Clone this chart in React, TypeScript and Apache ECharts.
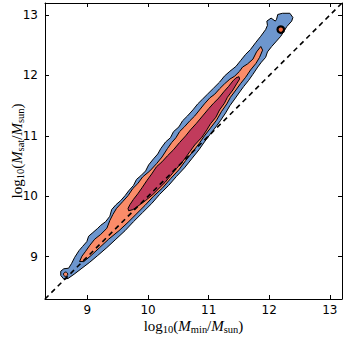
import React, { useEffect, useRef } from "react";
import * as echarts from "echarts";

// axis extent and ticks (log10 masses)
const axisMin = 8.3;
const axisMax = 13.2;
const tickValues = [9, 10, 11, 12, 13];

// 1:1 reference line
const diagonal = [
  [8.3, 8.3],
  [13.2, 13.2],
];

// outer (blue) density contour, [log10 Mmin, log10 Msat]
const outerContour = [
  [8.56, 8.69], [8.56, 8.76], [8.61, 8.8], [8.69, 8.81], [8.74, 8.89], [8.79, 8.99], [8.86, 9.1],
  [8.92, 9.17], [8.99, 9.25], [9.02, 9.34], [9.09, 9.4], [9.17, 9.47], [9.22, 9.52], [9.3, 9.58],
  [9.37, 9.67], [9.4, 9.78], [9.47, 9.86], [9.55, 9.93], [9.62, 10.01], [9.68, 10.09], [9.76, 10.18],
  [9.81, 10.28], [9.88, 10.34], [9.96, 10.42], [10.01, 10.52], [10.09, 10.62], [10.16, 10.7],
  [10.21, 10.79], [10.29, 10.9], [10.37, 10.97], [10.42, 11.07], [10.51, 11.15], [10.57, 11.25],
  [10.65, 11.33], [10.74, 11.43], [10.82, 11.53], [10.9, 11.61], [10.98, 11.69], [11.08, 11.79],
  [11.18, 11.89], [11.26, 11.99], [11.35, 12.07], [11.45, 12.15], [11.53, 12.25], [11.61, 12.35],
  [11.69, 12.43], [11.78, 12.55], [11.86, 12.65], [11.94, 12.76], [11.97, 12.83], [11.96, 12.9],
  [12.03, 12.95], [12.1, 12.9], [12.12, 12.93], [12.14, 13.01], [12.22, 13.03], [12.34, 13.03],
  [12.39, 12.96], [12.37, 12.9], [12.29, 12.81], [12.24, 12.73], [12.19, 12.65], [12.12, 12.57],
  [12.04, 12.48], [11.97, 12.39], [11.94, 12.3], [11.87, 12.22], [11.81, 12.14], [11.73, 12.02],
  [11.66, 11.92], [11.58, 11.82], [11.5, 11.71], [11.43, 11.61], [11.35, 11.5], [11.28, 11.38],
  [11.2, 11.26], [11.12, 11.15], [11.02, 11.02], [10.93, 10.9], [10.84, 10.77], [10.72, 10.62],
  [10.6, 10.47], [10.47, 10.33], [10.34, 10.18], [10.19, 10.03], [10.06, 9.88], [9.91, 9.73],
  [9.76, 9.58], [9.62, 9.43], [9.47, 9.29], [9.32, 9.15], [9.17, 9.02], [9.04, 8.91], [8.91, 8.81],
  [8.78, 8.71], [8.68, 8.64], [8.61, 8.63],
];

// middle (salmon) contour
const middleContour = [
  [8.87, 8.92], [8.91, 9.01], [8.97, 9.09], [9.04, 9.19], [9.12, 9.29], [9.22, 9.37], [9.32, 9.47],
  [9.37, 9.6], [9.42, 9.7], [9.48, 9.8], [9.58, 9.91], [9.67, 10.01], [9.75, 10.13], [9.83, 10.21],
  [9.91, 10.32], [10.03, 10.42], [10.14, 10.54], [10.23, 10.65], [10.32, 10.79], [10.39, 10.89],
  [10.46, 10.97], [10.52, 11.07], [10.6, 11.15], [10.69, 11.25], [10.77, 11.33], [10.85, 11.43],
  [10.93, 11.53], [11.02, 11.63], [11.1, 11.69], [11.18, 11.78], [11.26, 11.86], [11.35, 11.94],
  [11.43, 11.99], [11.51, 12.07], [11.56, 12.14], [11.64, 12.19], [11.73, 12.27], [11.79, 12.39],
  [11.86, 12.48], [11.89, 12.42], [11.84, 12.3], [11.78, 12.2], [11.69, 12.09], [11.61, 11.97],
  [11.53, 11.87], [11.45, 11.76], [11.36, 11.64], [11.3, 11.53], [11.21, 11.4], [11.13, 11.26],
  [11.03, 11.13], [10.93, 11.0], [10.84, 10.87], [10.74, 10.74], [10.62, 10.59], [10.51, 10.44],
  [10.37, 10.29], [10.24, 10.14], [10.09, 10.0], [9.95, 9.85], [9.8, 9.7], [9.67, 9.57], [9.52, 9.43],
  [9.35, 9.29], [9.2, 9.15], [9.06, 9.02], [8.94, 8.92],
];

// inner (crimson) contour
const innerContour = [
  [9.67, 9.8], [9.7, 9.86], [9.76, 9.95], [9.83, 10.04], [9.9, 10.14], [9.98, 10.26], [10.06, 10.37],
  [10.14, 10.49], [10.23, 10.57], [10.32, 10.67], [10.42, 10.77], [10.52, 10.89], [10.62, 11.0],
  [10.7, 11.1], [10.8, 11.21], [10.9, 11.33], [11.0, 11.45], [11.08, 11.54], [11.17, 11.63],
  [11.25, 11.73], [11.33, 11.82], [11.4, 11.91], [11.45, 11.96], [11.5, 11.98], [11.51, 11.94],
  [11.46, 11.86], [11.4, 11.76], [11.31, 11.64], [11.26, 11.54], [11.18, 11.43], [11.12, 11.31],
  [11.03, 11.2], [10.97, 11.1], [10.89, 10.98], [10.77, 10.85], [10.69, 10.74], [10.59, 10.6],
  [10.47, 10.46], [10.37, 10.34], [10.28, 10.23], [10.18, 10.13], [10.08, 10.03], [9.96, 9.93],
  [9.85, 9.85], [9.75, 9.78], [9.68, 9.76],
];

// small isolated contour islands: [x, y, radius in dex]
const islands = [
  [12.19, 12.76, 0.054],
  [8.64, 8.71, 0.035],
  [12.02, 12.9, 0.014],
];

const contours = [outerContour, middleContour, innerContour];
const contourColors = ["#6d96ce", "#fa8c69", "#c13b5c"];
const islandStyles = [
  { fill: "#f46a3e", stroke: "#000", lineWidth: 2.2 },
  { fill: "#fa8c69", stroke: "#000", lineWidth: 1 },
  { fill: "#1a1a1a", stroke: "#1a1a1a", lineWidth: 0 },
];

const serif = "'Liberation Serif', 'DejaVu Serif', serif";
const rich = {
  r: { fontFamily: serif, fontSize: 15, color: "#000" },
  i: { fontFamily: serif, fontSize: 15, fontStyle: "italic", color: "#000" },
  s: { fontFamily: serif, fontSize: 10.5, color: "#000", padding: [7, 0, 0, 0] },
};

function App() {
  const ref = useRef<HTMLDivElement>(null);
  useEffect(() => {
    if (!ref.current) return;
    const chart = echarts.init(ref.current, null, { renderer: "svg" });
    const tickCommon = {
      show: true,
      inside: true,
      length: 4,
      customValues: tickValues,
      lineStyle: { color: "#000", width: 1 },
    };
    const lineCommon = { show: true, onZero: false, lineStyle: { color: "#000", width: 1 } };
    const labelCommon = {
      customValues: tickValues,
      color: "#000",
      fontSize: 12,
      fontFamily: "'DejaVu Sans', sans-serif",
    };
    chart.setOption({
      animation: false,
      backgroundColor: "#fff",
      grid: { left: 45, right: 4, top: 3, bottom: 47, outerBoundsMode: "none" },
      xAxis: [
        {
          type: "value",
          min: axisMin,
          max: axisMax,
          position: "bottom",
          axisLine: lineCommon,
          axisTick: tickCommon,
          axisLabel: { ...labelCommon, margin: 5 },
          splitLine: { show: false },
          name: "{r|log}{s|10}{r|(}{i|M}{s|min}{r|/}{i|M}{s|sun}{r|)}",
          nameLocation: "middle",
          nameGap: 18,
          nameMoveOverlap: false,
          nameTextStyle: { rich },
        },
        {
          type: "value",
          min: axisMin,
          max: axisMax,
          position: "top",
          axisLine: lineCommon,
          axisTick: tickCommon,
          axisLabel: { show: false },
          splitLine: { show: false },
        },
      ],
      yAxis: [
        {
          type: "value",
          min: axisMin,
          max: axisMax,
          position: "left",
          axisLine: lineCommon,
          axisTick: tickCommon,
          axisLabel: { ...labelCommon, margin: 7 },
          splitLine: { show: false },
          name: "{r|log}{s|10}{r|(}{i|M}{s|sat}{r|/}{i|M}{s|sun}{r|)}",
          nameLocation: "middle",
          nameGap: 19,
          nameRotate: 90,
          nameMoveOverlap: false,
          nameTextStyle: { rich },
        },
        {
          type: "value",
          min: axisMin,
          max: axisMax,
          position: "right",
          axisLine: lineCommon,
          axisTick: tickCommon,
          axisLabel: { show: false },
          splitLine: { show: false },
        },
      ],
      series: [
        {
          type: "custom",
          coordinateSystem: "cartesian2d",
          data: contours.map((_, i) => [i]),
          renderItem: (params: any, api: any) => {
            const poly = contours[params.dataIndex];
            return {
              type: "polygon",
              shape: { points: poly.map((p) => api.coord(p)) },
              style: {
                fill: contourColors[params.dataIndex],
                stroke: "#000",
                lineWidth: 1,
                lineJoin: "round",
              },
            };
          },
          z: 2,
        },
        {
          type: "custom",
          coordinateSystem: "cartesian2d",
          data: islands,
          renderItem: (params: any, api: any) => {
            const c = api.coord([api.value(0), api.value(1)]);
            const r = api.size([api.value(2), 0])[0];
            return {
              type: "circle",
              shape: { cx: c[0], cy: c[1], r },
              style: islandStyles[params.dataIndex],
            };
          },
          z: 3,
        },
        {
          type: "line",
          data: diagonal,
          symbol: "none",
          lineStyle: { color: "#000", width: 1.6, type: [5, 4] },
          z: 5,
        },
      ],
    });
    return () => chart.dispose();
  }, []);
  return (
    <div
      ref={ref}
      style={{ position: "fixed", left: 0, top: 0, width: 346, height: 346 }}
    />
  );
}

export default App;
